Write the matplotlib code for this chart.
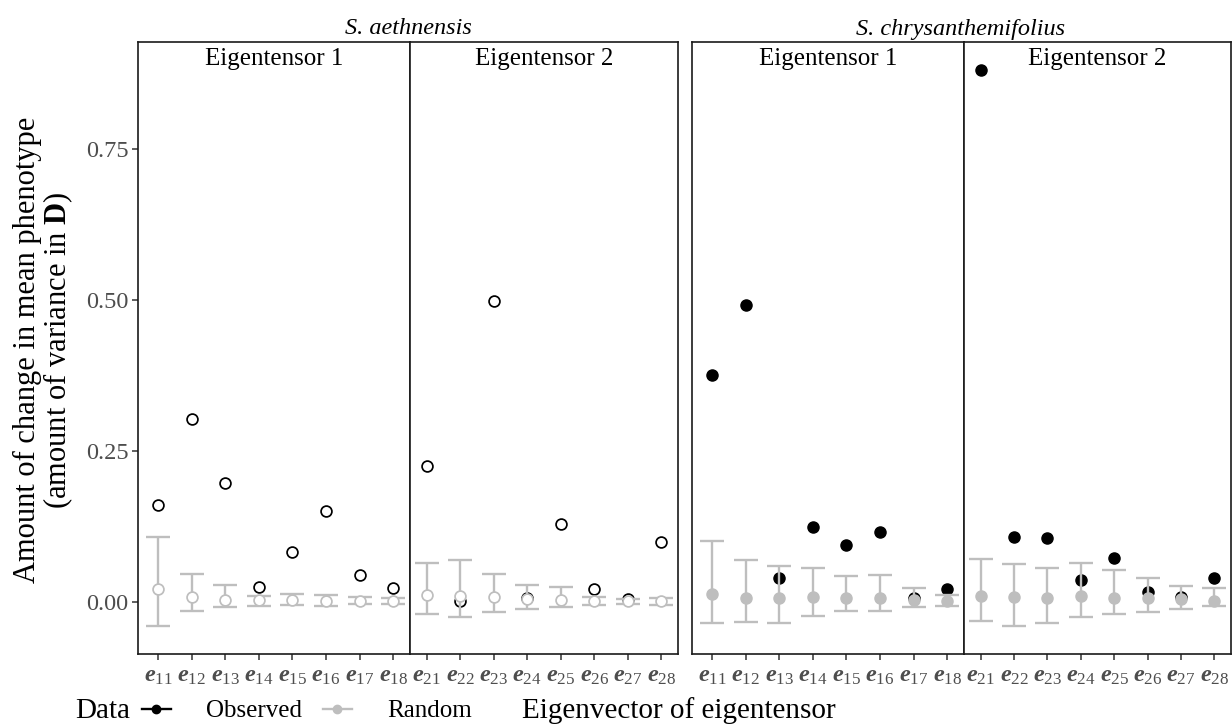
import numpy as np
import matplotlib
matplotlib.use("Agg")
import matplotlib.pyplot as plt
from matplotlib.lines import Line2D

plt.rcParams.update({
    'font.family': 'Liberation Serif',
    'mathtext.fontset': 'custom',
    'mathtext.rm': 'Liberation Serif',
    'mathtext.it': 'Liberation Serif:italic',
    'mathtext.bf': 'Liberation Serif:bold',
    'mathtext.bfit': 'Liberation Serif:italic:bold',
})

# Eigenvector labels
labels_1 = [r'$\mathbfit{e}_{1%d}$' % i for i in range(1, 9)]
labels_2 = [r'$\mathbfit{e}_{2%d}$' % i for i in range(1, 9)]

# S. aethnensis
aeth_obs_1 = [0.160, 0.303, 0.197, 0.025, 0.083, 0.150, 0.045, 0.024]
aeth_rnd_1 = [0.021, 0.008, 0.004, 0.003, 0.003, 0.002, 0.001, 0.001]
aeth_lo_1 = [-0.040, -0.014, -0.008, -0.006, -0.005, -0.006, -0.003, -0.003]
aeth_hi_1 = [0.107, 0.047, 0.028, 0.010, 0.014, 0.012, 0.008, 0.006]

aeth_obs_2 = [0.225, 0.001, 0.498, 0.006, 0.130, 0.021, 0.005, 0.100]
aeth_rnd_2 = [0.012, 0.010, 0.008, 0.005, 0.003, 0.002, 0.001, 0.001]
aeth_lo_2 = [-0.020, -0.024, -0.016, -0.012, -0.008, -0.005, -0.003, -0.005]
aeth_hi_2 = [0.065, 0.070, 0.046, 0.028, 0.025, 0.009, 0.005, 0.006]

# S. chrysanthemifolius
chry_obs_1 = [0.375, 0.492, 0.039, 0.124, 0.094, 0.116, 0.006, 0.021]
chry_rnd_1 = [0.013, 0.007, 0.007, 0.008, 0.006, 0.006, 0.004, 0.002]
chry_lo_1 = [-0.034, -0.033, -0.035, -0.023, -0.014, -0.014, -0.009, -0.006]
chry_hi_1 = [0.101, 0.070, 0.060, 0.057, 0.043, 0.044, 0.024, 0.012]

chry_obs_2 = [0.881, 0.108, 0.106, 0.036, 0.073, 0.016, 0.008, 0.039]
chry_rnd_2 = [0.010, 0.009, 0.007, 0.010, 0.007, 0.006, 0.005, 0.002]
chry_lo_2 = [-0.031, -0.039, -0.035, -0.024, -0.020, -0.016, -0.012, -0.007]
chry_hi_2 = [0.072, 0.063, 0.056, 0.065, 0.053, 0.040, 0.026, 0.023]

GREY = '#BEBEBE'
TXT = '#4D4D4D'
W, H = 1232, 724

fig = plt.figure(figsize=(W / 100, H / 100), dpi=100)


def add_panel(x0, x1, xlim):
    top, bot = 42, 654
    ax = fig.add_axes([x0 / W, 1 - bot / H, (x1 - x0) / W, (bot - top) / H])
    ax.set_xlim(*xlim)
    ax.set_ylim(-0.086, 0.927)
    for s in ax.spines.values():
        s.set_color('#1A1A1A')
        s.set_linewidth(1.2)
    ax.tick_params(length=4, width=1.1, color='#333333', labelcolor=TXT,
                   labelsize=17.5, pad=3)
    ax.tick_params(axis='x', pad=5)
    return ax


def draw(ax, obs, rnd, lo, hi, labels, strip, filled):
    x = np.arange(1, 9)
    obs = np.array(obs)
    rnd = np.array(rnd)
    yerr = [rnd - np.array(lo), np.array(hi) - rnd]
    if filled:
        ax.plot(x, obs, 'o', color='black', ms=8, zorder=3)
    else:
        ax.plot(x, obs, 'o', mfc='white', mec='black', ms=7.8, mew=1.25, zorder=3)
    ax.errorbar(x, rnd, yerr=yerr, fmt='none', ecolor=GREY, elinewidth=1.7,
                capsize=8.5, capthick=1.7, zorder=4)
    if filled:
        ax.plot(x, rnd, 'o', color=GREY, ms=8, zorder=5)
    else:
        ax.plot(x, rnd, 'o', mfc='white', mec=GREY, ms=7.8, mew=1.25, zorder=5)
    ax.set_xticks(x)
    ax.set_xticklabels(labels)
    ax.annotate(strip, xy=(0.5, 1), xycoords='axes fraction', xytext=(0, -12.5),
                textcoords='offset points', ha='center', va='center', fontsize=18)


a1 = add_panel(138, 410, (0.4, 8.5))
a2 = add_panel(410, 678, (0.5, 8.5))
b1 = add_panel(692, 964, (0.4, 8.5))
b2 = add_panel(964, 1231, (0.5, 8.5))

draw(a1, aeth_obs_1, aeth_rnd_1, aeth_lo_1, aeth_hi_1, labels_1, 'Eigentensor 1', False)
draw(a2, aeth_obs_2, aeth_rnd_2, aeth_lo_2, aeth_hi_2, labels_2, 'Eigentensor 2', False)
draw(b1, chry_obs_1, chry_rnd_1, chry_lo_1, chry_hi_1, labels_1, 'Eigentensor 1', True)
draw(b2, chry_obs_2, chry_rnd_2, chry_lo_2, chry_hi_2, labels_2, 'Eigentensor 2', True)

a1.set_yticks([0, 0.25, 0.5, 0.75])
a1.set_yticklabels(['0.00', '0.25', '0.50', '0.75'])
for ax in (a2, b1, b2):
    ax.tick_params(axis='y', left=False, labelleft=False)

# group titles
fig.text(408 / W, 1 - 29 / H, 'S. aethnensis', style='italic', ha='center',
         va='center', fontsize=17.5)
fig.text(961 / W, 1 - 29 / H, 'S. chrysanthemifolius', style='italic',
         ha='center', va='center', fontsize=17.5)

# axis titles
fig.text(44 / W, 1 - 350 / H,
         'Amount of change in mean phenotype\n(amount of variance in $\\mathbf{D}$)',
         rotation=90, ha='center', va='center', multialignment='center',
         fontsize=22, linespacing=1.0)
fig.text(679 / W, 1 - 711 / H, 'Eigenvector of eigentensor', ha='center',
         va='center', fontsize=21)

# legend
fig.text(75 / W, 1 - 711 / H, 'Data', ha='left', va='center', fontsize=21)
handles = [Line2D([], [], color='black', marker='o', lw=1.7, ms=6),
           Line2D([], [], color=GREY, marker='o', lw=1.7, ms=6)]
fig.legend(handles, ['Observed', 'Random'], loc='center left',
           bbox_to_anchor=(142 / W, 1 - 711 / H), ncol=2, frameon=False,
           fontsize=18, handlelength=1.15, handletextpad=1.4, columnspacing=0.85,
           borderpad=0, borderaxespad=0)

fig.savefig('out.png', dpi=100)
